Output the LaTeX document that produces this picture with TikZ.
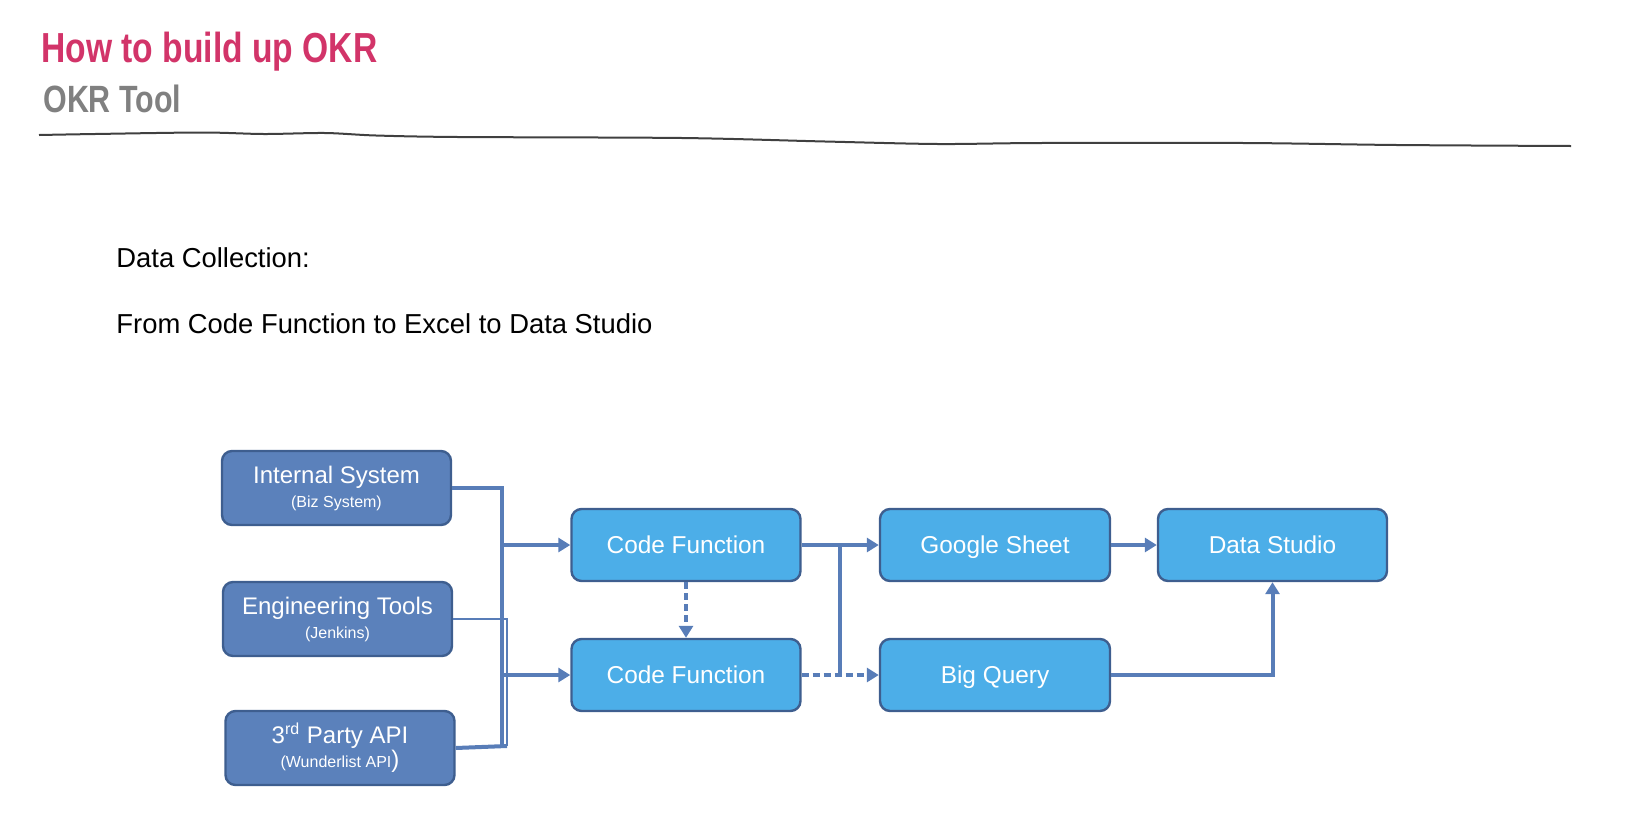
\documentclass[tikz,border=0pt]{standalone}
\usepackage{fontspec}
\setmainfont{Liberation Sans}
\newfontfamily\headfont[FakeStretch=0.8]{Liberation Sans}
\usetikzlibrary{arrows.meta}
\definecolor{okrred}{RGB}{210,52,105}
\definecolor{okrgray}{RGB}{128,128,128}
\definecolor{srcblue}{RGB}{91,129,187}
\definecolor{funblue}{RGB}{76,174,232}
\definecolor{edgeblue}{RGB}{62,94,143}
\definecolor{linkblue}{RGB}{88,125,184}
\newcommand{\boxsub}[1]{{\fontsize{8}{9}\selectfont #1}}

\begin{document}
\begin{tikzpicture}[x=0.5pt,y=-0.5pt,>={Triangle[length=6pt,width=7pt]},
    srcbox/.style={draw=edgeblue,line width=1.2pt,fill=srcblue,rounded corners=5pt,
        text=white,align=center,minimum width=114.5pt,minimum height=37pt,inner sep=0pt,
        font=\fontsize{12}{14}\selectfont},
    funbox/.style={srcbox,fill=funblue,minimum height=36pt,text height=10pt,text depth=2pt,
        font=\fontsize{12.2}{14}\selectfont},
    link/.style={draw=linkblue,line width=2pt},
    dashlink/.style={link,dash pattern=on 3.5pt off 2pt}]
        % page frame
        \useasboundingbox (0,0) rectangle (1650,836);
        % heading
        \node[anchor=base west,inner sep=0pt,text=okrred,
            font=\headfont\bfseries\fontsize{21}{24}\selectfont] (title) at (41,62) {How to build up OKR};
        \node[anchor=base west,inner sep=0pt,text=okrgray,
            font=\headfont\bfseries\fontsize{19}{22}\selectfont] (subtitle) at (43,112) {OKR Tool};
        % wavy rule under the heading
        \draw[line width=1pt,draw=black!75] plot[smooth,tension=0.5] coordinates {
            (39,135) (95,134) (202,132.5) (264,134) (325,133) (376,135.5) (458,137)
            (682,138) (825,141.5) (938,144) (1040,143) (1244,143) (1397,145) (1571,146)};
        % text lines
        \node[anchor=base west,inner sep=0pt,font=\fontsize{13.7}{16}\selectfont] (intro) at (116,267) {Data Collection:};
        \node[anchor=base west,inner sep=0pt,font=\fontsize{13.7}{16}\selectfont] (route) at (116,333) {From Code Function to Excel to Data Studio};
        % sources
        \node[srcbox] (is) at (336.5,488) {Internal System\\[-2pt]\boxsub{(Biz System)}};
        \node[srcbox] (et) at (337.5,619) {Engineering Tools\\[-2pt]\boxsub{(Jenkins)}};
        \node[srcbox] (tp) at (340,748) {3\textsuperscript{rd} Party API\\[-2pt]\boxsub{(Wunderlist API}{)}};
        % processing
        \node[funbox] (cf1) at (686,545) {Code Function};
        \node[funbox] (cf2) at (686,675) {Code Function};
        \node[funbox,minimum width=115pt] (gs) at (995,545) {Google Sheet};
        \node[funbox,minimum width=115pt] (bq) at (995,675) {Big Query};
        \node[funbox] (ds) at (1272.5,545) {Data Studio};
        % bus from the sources
        \coordinate (busA) at (502,746);
        \coordinate (busB) at (507,746);
        \draw[link] (is.east) -| (busA);
        \draw[link,line width=1.2pt] (et.east) -| (busB);
        \draw[link] (tp.east) -- (busB);
        \draw[link,->] (busA |- cf1.west) -- (cf1.west);
        \draw[link,->] (busA |- cf2.west) -- (cf2.west);
        % code functions to the stores
        \draw[dashlink,->] (cf1.south) -- (cf2.north);
        \draw[link,->] (cf1.east) -- (gs.west);
        \coordinate (split) at (840,545);
        \draw[link] (split) -- (split |- cf2.east);
        \draw[dashlink,->] (cf2.east) -- (bq.west);
        % stores to the report
        \draw[link,->] (gs.east) -- (ds.west);
        \draw[link,->] (bq.east) -| (ds.south);
\end{tikzpicture}
\end{document}
